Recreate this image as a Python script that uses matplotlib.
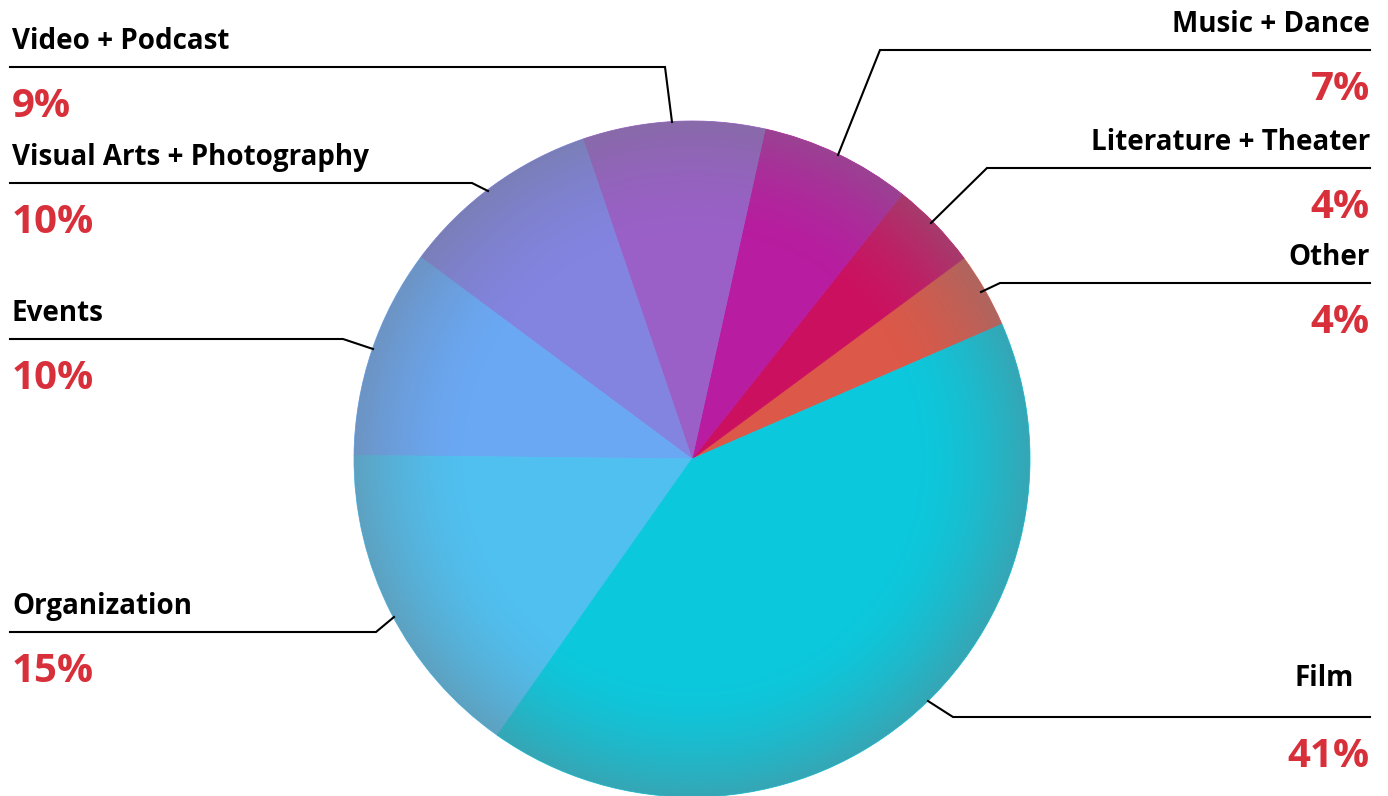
import numpy as np
import matplotlib
matplotlib.use("Agg")
import matplotlib.pyplot as plt
from matplotlib.patches import Circle

# slices, counter-clockwise from the right edge
labels = ["Other", "Literature + Theater", "Music + Dance", "Video + Podcast",
          "Visual Arts + Photography", "Events", "Organization", "Film"]
shares = [3.6, 4.2, 7.2, 8.7, 9.6, 10.0, 15.4, 41.3]   # slice sizes
pct_text = ["4%", "4%", "7%", "9%", "10%", "10%", "15%", "41%"]
colors = ["#DC5848", "#CC1060", "#B81CA0", "#9A60C8",
          "#8284E0", "#6AA8F4", "#50C0F0", "#0CC8DC"]

W, H = 1388, 796
CX, CY, R = 692, 459, 338   # pie centre / radius in image pixels (y down)

# label layout: side, elbow (x, y of the rule), anchor on the pie edge
layout = {
    "Video + Podcast":           ("L", (665, 67),  (672, 122)),
    "Visual Arts + Photography": ("L", (472, 183), (488, 191)),
    "Events":                    ("L", (343, 339), (373, 349)),
    "Organization":              ("L", (376, 632), (394, 617)),
    "Music + Dance":             ("R", (880, 50),  (838, 155)),
    "Literature + Theater":      ("R", (987, 168), (931, 223)),
    "Other":                     ("R", (1000, 283), (981, 292)),
    "Film":                      ("R", (953, 717), (928, 701)),
}

def Y(y):
    return H - y

fig = plt.figure(figsize=(W / 100, H / 100), dpi=100)
ax = fig.add_axes([0, 0, 1, 1])

wedges, _ = ax.pie(shares, colors=colors, startangle=23.5, counterclock=True,
                   center=(CX, Y(CY)), radius=R, frame=True,
                   wedgeprops=dict(linewidth=0.6))
for w, c in zip(wedges, colors):
    w.set_edgecolor(c)

# soft darkening towards the rim
n = 600
g = np.linspace(-1, 1, n)
xx, yy = np.meshgrid(g, g)
rr = np.sqrt(xx ** 2 + yy ** 2)
alpha = 0.42 * np.clip((rr - 0.66) / 0.34, 0, 1) ** 1.6
shade = np.zeros((n, n, 4))
shade[..., 0] = 0.44
shade[..., 1] = 0.47
shade[..., 2] = 0.50
shade[..., 3] = alpha
im = ax.imshow(shade, extent=[CX - R, CX + R, Y(CY) - R, Y(CY) + R],
               origin="lower", interpolation="bilinear", zorder=2)
im.set_clip_path(Circle((CX, Y(CY)), R, transform=ax.transData))

font = "Open Sans"
for lab, pct in zip(labels, pct_text):
    side, (ex, ey), (axx, ayy) = layout[lab]
    if side == "L":
        ax.plot([10, ex, axx], [Y(ey), Y(ey), Y(ayy)], color="black", lw=1.5,
                solid_joinstyle="miter", zorder=3)
        tx, ha = 12, "left"
    else:
        ax.plot([1370, ex, axx], [Y(ey), Y(ey), Y(ayy)], color="black", lw=1.5,
                solid_joinstyle="miter", zorder=3)
        tx, ha = 1370, "right"
    gap = 31 if lab == "Film" else 18
    lx = tx - 16 if lab == "Film" else tx
    ax.text(lx, Y(ey - gap), lab, ha=ha, va="baseline", fontsize=20,
            fontweight="bold", family=font, color="black")
    ax.text(tx, Y(ey + 50), pct, ha=ha, va="baseline", fontsize=29,
            fontweight="bold", family=font, color="#D8303A")

ax.set_xlim(0, W)
ax.set_ylim(0, H)
ax.set_aspect("equal")
ax.axis("off")

fig.savefig("out.png", dpi=100, facecolor="white")
